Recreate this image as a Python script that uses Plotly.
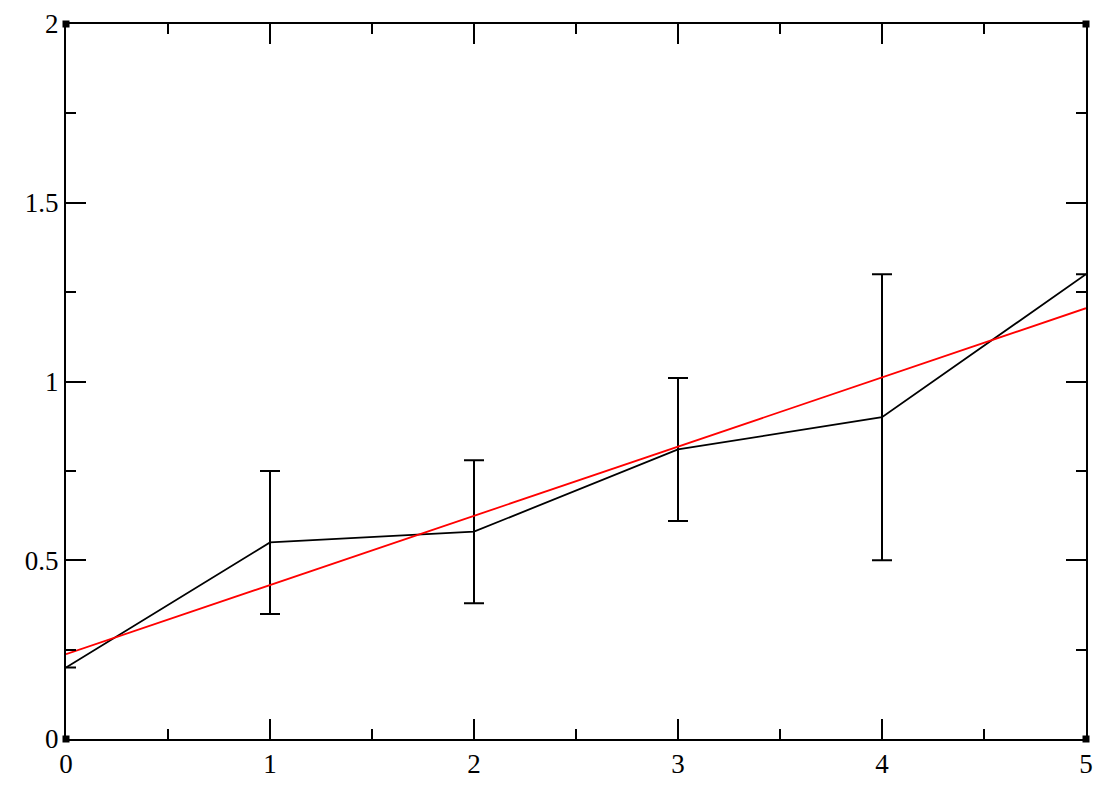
import plotly.graph_objects as go

# Data
x_vals = [0, 1, 2, 3, 4, 5]
y_vals = [0.2, 0.55, 0.58, 0.81, 0.9, 1.3]
y_err = [None, 0.2, 0.2, 0.2, 0.4, None]

fit_x = [0, 5]
fit_y = [0.237, 1.205]

x_range = [0, 5]
y_range = [0, 2]
x_ticks = [0, 1, 2, 3, 4, 5]
y_ticks = [0, 0.5, 1, 1.5, 2]
y_tick_labels = ["0", "0.5", "1", "1.5", "2"]

font_family = "Liberation Serif"

fig = go.Figure()

fig.add_trace(go.Scatter(
    x=x_vals, y=y_vals, mode="lines",
    line=dict(color="black", width=1.8),
    error_y=dict(type="data", array=y_err, visible=True,
                 color="black", thickness=2, width=10),
    showlegend=False,
))

fig.add_trace(go.Scatter(
    x=fit_x, y=fit_y, mode="lines",
    line=dict(color="red", width=1.8),
    showlegend=False,
))

# Corner markers (as drawn by the original plotting program)
corner_x = [x_range[0], x_range[1], x_range[0], x_range[1]]
corner_y = [y_range[0], y_range[0], y_range[1], y_range[1]]
fig.add_trace(go.Scatter(
    x=corner_x, y=corner_y, mode="markers",
    marker=dict(symbol="square", size=7, color="black",
                line=dict(color="black", width=0)),
    cliponaxis=False, showlegend=False, hoverinfo="skip",
))

axis_common = dict(
    showgrid=False, zeroline=False, automargin=False,
    showline=True, linecolor="black", linewidth=2,
    mirror="ticks", ticks="inside", ticklen=20, tickwidth=2,
    tickcolor="black",
    tickfont=dict(family=font_family, size=27, color="black"),
)

fig.update_xaxes(
    range=x_range, tickvals=x_ticks,
    minor=dict(ticks="inside", ticklen=10, tickwidth=2, tickcolor="black", dtick=0.5),
    **axis_common,
)
fig.update_yaxes(
    range=y_range, tickvals=y_ticks, ticktext=y_tick_labels,
    minor=dict(ticks="inside", ticklen=10, tickwidth=2, tickcolor="black", dtick=0.25),
    **axis_common,
)

fig.update_layout(
    width=1120, height=790,
    margin=dict(l=58, r=42, t=16, b=59),
    plot_bgcolor="white", paper_bgcolor="white",
)

fig.write_html("out.html")
